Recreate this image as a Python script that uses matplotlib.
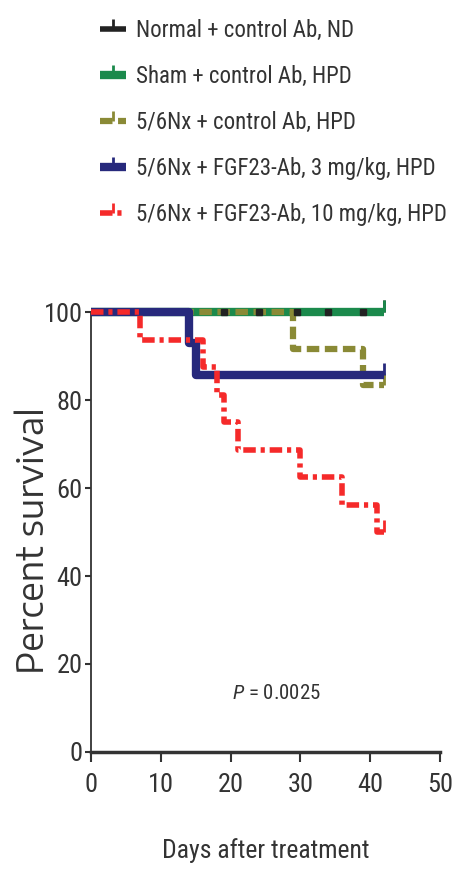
import matplotlib
matplotlib.use("Agg")
from matplotlib import pyplot as plt
from matplotlib.lines import Line2D

plt.rcParams["font.family"] = ["Roboto Condensed", "Liberation Sans", "DejaVu Sans"]
plt.rcParams["mathtext.fontset"] = "custom"
plt.rcParams["mathtext.it"] = "Roboto Condensed:italic"
plt.rcParams["mathtext.rm"] = "Roboto Condensed"
plt.rcParams["lines.scale_dashes"] = False

# Kaplan-Meier steps (days, percent survival)
normal_days = [0, 42]
normal_surv = [100, 100]
normal_censor = [19, 24, 29.5, 34, 39]

sham_days = [0, 42]
sham_surv = [100, 100]

nx_ctrl_days = [0, 29, 39, 42]
nx_ctrl_surv = [100, 91.67, 83.33, 83.33]

fgf3_days = [0, 14, 15, 42]
fgf3_surv = [100, 92.86, 85.71, 85.71]

fgf10_days = [0, 7, 16, 18, 19, 21, 30, 36, 41, 42]
fgf10_surv = [100, 93.75, 87.5, 81.25, 75, 68.75, 62.5, 56.25, 50, 50]

labels = ["Normal + control Ab, ND",
          "Sham + control Ab, HPD",
          "5/6Nx + control Ab, HPD",
          "5/6Nx + FGF23-Ab, 3 mg/kg, HPD",
          "5/6Nx + FGF23-Ab, 10 mg/kg, HPD"]

c_black = "#222222"
c_green = "#1b8a4c"
c_olive = "#8a8a36"
c_blue = "#27297c"
c_red = "#f52a2a"

fig = plt.figure(figsize=(4.64, 8.74), dpi=100)
ax = fig.add_axes([0.1961, 0.1396, 0.7522, 0.5034])

series = [
    (normal_days, normal_surv, c_black, "-", 4, 1),
    (sham_days, sham_surv, c_green, "-", 6, 2),
    (nx_ctrl_days, nx_ctrl_surv, c_olive, (0, (9, 4)), 4.5, 3),
    (fgf3_days, fgf3_surv, c_blue, "-", 6, 4),
    (fgf10_days, fgf10_surv, c_red, (0, (9, 3.5, 3, 3.5)), 4, 5),
]
handles = []
for (d, s, col, ls, lw, z), lab in zip(series, labels):
    ax.step(d, s, where="post", color=col, ls=ls, lw=lw, zorder=z,
            clip_on=False, solid_capstyle="butt", dash_capstyle="butt")
    # censor tick at end of follow-up
    ax.plot([d[-1]], [s[-1]], ls="none", marker=2, ms=9, mew=2,
            color=col, zorder=z, clip_on=False)
    handles.append(Line2D([], [], color=col, ls=ls, lw=lw, marker=2,
                          ms=7, mew=2, solid_capstyle="butt"))

ax.plot(normal_censor, [100] * len(normal_censor), ls="none", marker="s",
        ms=4, color=c_black, zorder=6, clip_on=False)

ax.set_xlim(0, 50)
ax.set_ylim(0, 100)
ax.set_xticks(range(0, 51, 10))
ax.set_yticks(range(0, 101, 20))
for side in ("top", "right"):
    ax.spines[side].set_visible(False)
ax.spines["left"].set_linewidth(1.3)
ax.spines["bottom"].set_linewidth(2.5)
ax.spines["left"].set_color("#333333")
ax.spines["bottom"].set_color("#333333")
ax.tick_params(axis="y", length=4, width=1.5, pad=2, labelsize=19, colors="#333333")
ax.tick_params(axis="x", length=7, width=1.5, pad=8, labelsize=19, colors="#333333")

ax.set_xlabel("Days after treatment", fontsize=18.5, color="#333333", labelpad=30)
ax.set_ylabel("Percent survival", fontsize=25.5, color="#333333",
              family=["Encode Sans Semi Expanded", "Liberation Sans", "DejaVu Sans"])
ax.yaxis.set_label_coords(-0.112, 0.48)

ax.text(26.6, 13.4, r"$P$ = 0.0025", fontsize=15, color="#333333",
        ha="center", va="center")

fig.legend(handles, labels, loc="upper left", bbox_to_anchor=(100 / 464, 1 - 19 / 874),
           frameon=False, fontsize=16.5, handlelength=1.15, handletextpad=0.4,
           labelspacing=1.0, borderpad=0, borderaxespad=0, labelcolor="#333333")

fig.savefig("out.png", dpi=100)
